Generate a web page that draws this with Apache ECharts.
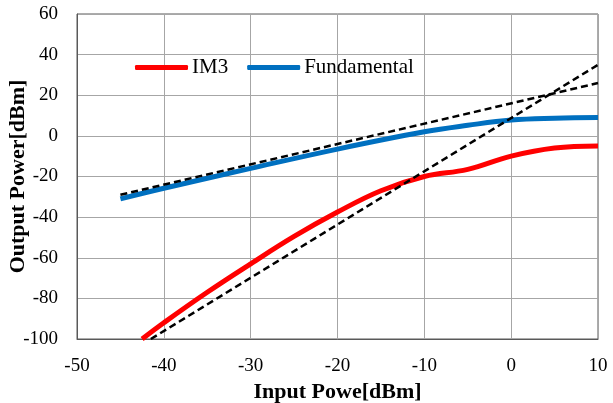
<!DOCTYPE html>
<html>
<head>
<meta charset="utf-8">
<script src="https://cdn.jsdelivr.net/npm/echarts@6/dist/echarts.min.js"></script>
<style>
  html, body { margin: 0; padding: 0; background: #fff; }
  #chart { width: 613px; height: 403px; }
</style>
</head>
<body>
<div id="chart"></div>
<script>
// measured curves, [input dBm, output dBm]
const im3Points = [
  [-42.5, -100], [-40, -92], [-35, -77], [-30, -63], [-25, -49.5], [-20, -37.5],
  [-15, -27], [-10, -20], [-5, -16.5], [0, -10], [5, -6], [10, -5]
];
const fundamentalPoints = [
  [-45, -31], [-40, -25.8], [-30, -16], [-20, -6.5], [-10, 2], [-5, 5.2],
  [0, 7.8], [5, 8.7], [10, 9]
];
// extrapolated asymptotes (dashed)
const fundLine = [[-45, -29], [10, 26]];
const im3Line = [[-41.5, -100], [10, 35]];

const xTicks = { min: -50, max: 10, step: 10 };
const yTicks = { min: -100, max: 60, step: 20 };

const chart = echarts.init(document.getElementById('chart'));
const serif = '"Liberation Serif", "DejaVu Serif", serif';

const dashed = (data) => ({
  type: 'line',
  data: data,
  symbol: 'none',
  silent: true,
  lineStyle: { color: '#000', width: 2.5, type: [7, 4] },
  z: 3
});

chart.setOption({
  animation: false,
  grid: {
    left: 77, right: 15, top: 14, bottom: 64,
    outerBoundsMode: 'none',
    containLabel: false,
    show: true, borderColor: '#595959', borderWidth: 1
  },
  legend: {
    left: 130, top: 52,
    data: ['IM3', 'Fundamental'],
    icon: 'roundRect',
    itemWidth: 53, itemHeight: 5,
    itemGap: 19,
    textStyle: { fontFamily: serif, fontSize: 21, color: '#000', padding: [0, 0, 0, -1] }
  },
  xAxis: {
    type: 'value',
    min: xTicks.min, max: xTicks.max, interval: xTicks.step,
    name: 'Input Powe[dBm]',
    nameLocation: 'middle', nameGap: 42, nameMoveOverlap: false,
    nameTextStyle: { fontFamily: serif, fontSize: 22, fontWeight: 'bold', color: '#000' },
    axisLine: { onZero: false, lineStyle: { color: '#595959' } },
    axisTick: { show: false },
    axisLabel: { fontFamily: serif, fontSize: 19, color: '#000', margin: 18 },
    splitLine: { lineStyle: { color: '#a6a6a6', width: 1 } }
  },
  yAxis: {
    type: 'value',
    min: yTicks.min, max: yTicks.max, interval: yTicks.step,
    name: 'Output Power[dBm]',
    nameLocation: 'middle', nameGap: 48, nameMoveOverlap: false,
    nameTextStyle: { fontFamily: serif, fontSize: 22, fontWeight: 'bold', color: '#000' },
    axisLine: { show: true, onZero: false, lineStyle: { color: '#595959' } },
    axisTick: { show: false },
    axisLabel: { fontFamily: serif, fontSize: 19, color: '#000', margin: 19 },
    splitLine: { lineStyle: { color: '#a6a6a6', width: 1 } }
  },
  series: [
    {
      name: 'IM3', type: 'line', data: im3Points, smooth: 0.4, symbol: 'none',
      lineStyle: { color: '#ff0000', width: 5 }, itemStyle: { color: '#ff0000' }, z: 2
    },
    {
      name: 'Fundamental', type: 'line', data: fundamentalPoints, smooth: 0.4, symbol: 'none',
      lineStyle: { color: '#0070c0', width: 5 }, itemStyle: { color: '#0070c0' }, z: 2
    },
    dashed(fundLine),
    dashed(im3Line)
  ]
});
</script>
</body>
</html>
